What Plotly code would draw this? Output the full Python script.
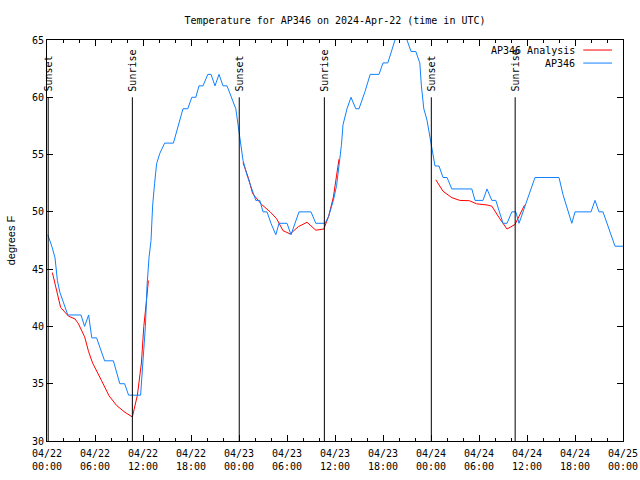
import pandas as pd
import plotly.graph_objects as go

BASE = pd.Timestamp("2024-04-22 00:00")

# AP346 observations: hours after 2024-04-22 00:00 UTC, temperature (F)
obs_hours = [0.1, 0.6, 1.0, 1.3, 1.6, 2.1, 2.6, 4.25, 4.7, 5.2, 5.6, 6.2, 6.7, 7.2, 8.3, 8.7, 9.1, 9.7,
             10.2, 11.7, 11.85, 12.1, 12.3, 12.5, 12.75, 13.0, 13.2, 13.45, 13.7, 14.1, 14.7, 15.8,
             16.4, 17.0, 17.6, 18.1, 18.6, 19.0, 19.5, 20.1, 20.5, 21.0, 21.5, 22.0, 22.5, 23.1,
             23.6, 24.0, 24.5, 25.0, 25.6, 26.1, 26.6, 27.0, 27.5, 28.0, 28.6, 29.0, 30.0, 30.5,
             31.5, 33.0, 33.6, 34.75, 35.2, 35.8, 36.2, 36.6, 36.8, 37.0, 37.5, 38.0, 38.6, 39.0,
             39.75, 40.4, 41.5, 42.0, 42.6, 43.5, 44.2, 45.0, 45.5, 46.1, 46.6, 46.8, 47.1, 47.5,
             47.9, 48.2, 48.5, 49.0, 49.5, 50.0, 50.6, 53.1, 53.5, 54.5, 55.0, 55.6, 56.1, 57.0,
             57.5, 58.1, 58.6, 59.0, 61.0, 64.0, 64.5, 65.6, 66.0, 68.0, 68.5, 69.0, 69.5, 71.0,
             71.6, 72.0]
obs_temp = [48, 47, 46, 44, 43, 42, 41, 41, 40, 41, 39, 39, 38, 37, 37, 36, 35, 35,
            34, 34, 35.5, 37.5, 40, 43.5, 46, 47.5, 50.5, 52.5, 54.2, 55.1, 56, 56,
            57.5, 59, 59, 60, 60, 61, 61, 62, 62, 61, 62, 61, 61, 60,
            59, 57, 54.5, 53.2, 52, 51, 51, 50, 50, 49, 48, 49, 49, 48,
            50, 50, 49, 49, 49.6, 51, 52.3, 54.4, 55.8, 57.6, 59, 60, 59, 59,
            60.5, 62, 62, 63, 63, 65, 66, 65, 64, 64, 63, 61, 59, 58,
            56.4, 55, 54, 54, 53, 53, 52, 52, 51, 51, 52, 51, 51, 49,
            49, 50, 50, 49, 53, 53, 51.5, 49, 50, 50, 51, 50, 50, 47,
            47, 47]

# AP346 Analysis segments (night-time)
ana1_hours = [0.67, 1.2, 1.7, 2.67, 3.5, 3.9, 4.7, 5.2, 5.7, 6.8, 7.75, 8.7, 9.75, 10.67,
              11.3, 11.8, 12.1, 12.4, 12.67]
ana1_temp = [44.7, 43.0, 41.67, 40.9, 40.65, 40.27, 39.1, 37.8, 36.8, 35.3, 33.95, 33.1, 32.5, 32.1,
             34.0, 36.8, 40.0, 42.0, 44.0]
ana2_hours = [24.5, 25.2, 25.7, 26.8, 27.9, 28.7, 29.5, 30.4, 31.4, 32.5, 33.6, 34.6, 35.2, 35.8, 36.5]
ana2_temp = [54.3, 52.9, 51.6, 50.66, 50.0, 49.4, 48.36, 48.07, 48.7, 49.09, 48.4, 48.5, 49.6, 51.3, 54.6]
ana3_hours = [48.6, 49.5, 50.6, 51.6, 52.8, 53.7, 55.0, 55.6, 56.6, 57.5, 58.5, 59.7]
ana3_temp = [52.8, 51.8, 51.24, 51.0, 50.97, 50.7, 50.6, 50.5, 49.4, 48.5, 48.9, 50.6]

sunset_hours = [0.15, 24.03, 48.04]
sunrise_hours = [10.67, 34.67, 58.52]

title_text = "Temperature for AP346 on 2024-Apr-22 (time in UTC)"
y_label = "degrees F"
series_names = ["AP346 Analysis", "AP346"]
series_colors = ["#ff0000", "#1080ff"]


def to_time(hours):
    return [BASE + pd.Timedelta(hours=h) if h is not None else None for h in hours]


ana_hours = ana1_hours + [None] + ana2_hours + [None] + ana3_hours
ana_temp = ana1_temp + [None] + ana2_temp + [None] + ana3_temp

MONO = "DejaVu Sans Mono"

fig = go.Figure()
fig.add_trace(go.Scatter(x=to_time(ana_hours), y=ana_temp, mode="lines", name=series_names[0],
                         line=dict(color=series_colors[0], width=1), connectgaps=False,
                         showlegend=False))
fig.add_trace(go.Scatter(x=to_time(obs_hours), y=obs_temp, mode="lines", name=series_names[1],
                         line=dict(color=series_colors[1], width=1), showlegend=False))

shapes = []
annotations = []
for label, hrs in (("Sunset", sunset_hours), ("Sunrise", sunrise_hours)):
    for h in hrs:
        t = BASE + pd.Timedelta(hours=h)
        shapes.append(dict(type="line", xref="x", yref="y", x0=t, x1=t, y0=30, y1=60,
                           line=dict(color="black", width=1)))
        annotations.append(dict(x=t, y=60, xref="x", yref="y", text=label, textangle=-90,
                                showarrow=False, xanchor="center", yanchor="bottom", yshift=4,
                                font=dict(family=MONO, size=10, color="black")))

# legend drawn gnuplot-style (text, then sample line)
for i, (name, col) in enumerate(zip(series_names, series_colors)):
    yp = 0.975 - i * 0.0325
    annotations.append(dict(x=0.921, y=yp, xref="paper", yref="paper", text=name,
                            showarrow=False, xanchor="right", yanchor="middle",
                            font=dict(family=MONO, size=10, color="black")))
    shapes.append(dict(type="line", xref="paper", yref="paper", x0=0.931, x1=0.981,
                       y0=yp, y1=yp, line=dict(color=col, width=1)))

fig.update_layout(
    width=640, height=480,
    margin=dict(l=47, r=17, t=40, b=39, pad=0),
    paper_bgcolor="white", plot_bgcolor="white",
    title=dict(text=title_text, x=0.5, xref="paper", y=0.958, yanchor="middle",
               font=dict(family=MONO, size=10, color="black")),
    shapes=shapes, annotations=annotations,
    showlegend=False,
)
fig.update_xaxes(
    type="date", range=[BASE, BASE + pd.Timedelta(hours=72)],
    dtick=6 * 3600 * 1000, tick0=BASE, tickformat="%m/%d<br>%H:%M",
    ticks="inside", ticklen=6, tickcolor="black", showline=True, linecolor="black",
    linewidth=1, mirror="allticks", showgrid=False, zeroline=False, automargin=False,
    ticklabelstandoff=3,
    tickfont=dict(family=MONO, size=10, color="black"),
    minor=dict(dtick=2 * 3600 * 1000, tick0=BASE, ticks="inside", ticklen=3,
               tickcolor="black", showgrid=False),
)
fig.update_yaxes(
    range=[30, 65], dtick=5, ticks="inside", ticklen=6, tickcolor="black",
    showline=True, linecolor="black", linewidth=1, mirror="allticks",
    showgrid=False, zeroline=False, automargin=False,
    tickfont=dict(family=MONO, size=10, color="black"),
    title=dict(text=y_label, standoff=14, font=dict(family="Liberation Sans", size=11, color="black")),
)

fig.write_html("out.html", config={"displayModeBar": False},
               post_script="document.body.style.margin='0';document.body.style.padding='0';")
